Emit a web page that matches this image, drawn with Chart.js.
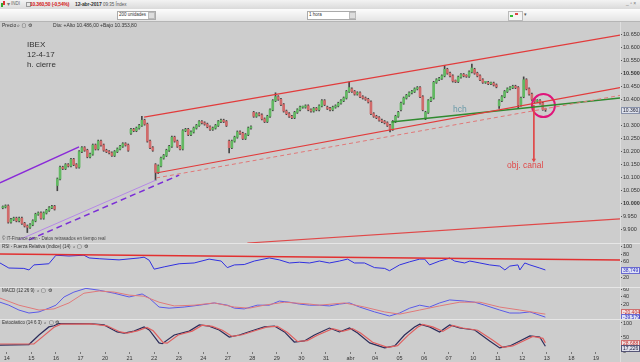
<!DOCTYPE html>
<html>
<head>
<meta charset="utf-8">
<script src="https://cdn.jsdelivr.net/npm/chart.js@4.4.1/dist/chart.umd.min.js"></script>
<style>
body{margin:0;width:640px;height:362px;background:#e6e6e6;overflow:hidden;position:relative;font-family:'Liberation Sans',Arial,sans-serif}
canvas{position:absolute;left:0;background:#cdcdcd}
.a{position:absolute;white-space:nowrap;line-height:1}
</style>
</head>
<body>
<div class="a" style="left:0;top:0;width:640px;height:9px;background:linear-gradient(#f3f3f3,#dadada)"></div>
<div class="a" style="left:0;top:9px;width:640px;height:12px;background:linear-gradient(#fcfcfc,#e4e4e4);border-bottom:1px solid #b5b5b5"></div>
<div class="a" style="left:1px;top:3px;width:2px;height:4px;background:#3a3"></div>
<div class="a" style="left:3px;top:1px;width:2px;height:4px;background:#d33"></div>
<div class="a" style="left:7px;top:1px;font-size:6px;color:#777">▾</div>
<div class="a" style="left:11px;top:2px;font-size:4.5px;color:#666">INDI</div>
<div class="a" style="left:26px;top:2px;width:3px;height:3px;border:1px solid #999"></div>
<div class="a" style="left:30px;top:2px;font-size:5px;font-weight:bold;letter-spacing:-0.2px;color:#d42020">10.360,50 (-0,54%)</div>
<div class="a" style="left:75px;top:2px;font-size:5px;font-weight:bold;letter-spacing:-0.1px;color:#333">12-abr-2017</div>
<div class="a" style="left:103px;top:2.5px;font-size:4.5px;color:#555">09:35 Índex</div>
<div class="a" style="left:626px;top:1px;font-size:5px;color:#777">_ ▫ ×</div>
<div class="a" style="left:117px;top:11px;width:37px;height:7px;background:#fff;border:1px solid #aaa"></div>
<div class="a" style="left:119px;top:12.5px;font-size:4.5px;color:#333">200 unidades</div>
<div class="a" style="left:148px;top:12px;width:5px;height:5px;background:#ddd;border:1px solid #bbb"></div>
<div class="a" style="left:307px;top:11px;width:47px;height:7px;background:#fff;border:1px solid #aaa"></div>
<div class="a" style="left:309px;top:12.5px;font-size:4.5px;color:#333">1 hora</div>
<div class="a" style="left:349px;top:12px;width:5px;height:5px;background:#ddd;border:1px solid #bbb"></div>
<div class="a" style="left:508px;top:11px;width:13px;height:8px;background:#f4f4f4;border:1px solid #bbb"></div>
<div class="a" style="left:510px;top:15px;width:3px;height:2px;background:#3b3"></div>
<div class="a" style="left:515px;top:13px;width:3px;height:2px;background:#d44"></div>
<div class="a" style="left:524px;top:12px;font-size:5px;color:#555">▾</div>

<canvas id="price" width="640" height="221" style="top:22px"></canvas>
<canvas id="rsi" width="640" height="43" style="top:244px"></canvas>
<canvas id="macd" width="640" height="31" style="top:288px"></canvas>
<canvas id="stoch" width="640" height="42" style="top:320px"></canvas>

<script>
// x values are trading days (0 = 14 mar), 9 hourly candles per day
const dayLabels = ['14','15','16','17','20','21','22','23','24','27','28','29','30','31','abr','04','05','06','07','10','11','12','13','18','19'];
const priceTicks = [9900,9950,10000,10050,10100,10150,10200,10250,10300,10350,10400,10450,10500,10550,10600,10650];

// first entry: last two hours of 13 mar
const dayOpens = [9985,9992,9920,10070,10200,10205,10270,10150,10220,10310,10240,10350,10410,10370,10370,10440,10335,10360,10330,10500,10515,10375,10410];
const dayCloses = [
  [9988,9992],
  [9930,9940,9945,9935,9945,9925,9915,9910,9920],
  [9935,9960,9965,9945,9965,9975,9985,9990,9980],
  [10095,10140,10135,10150,10145,10170,10150,10140,10200],
  [10215,10205,10180,10190,10225,10210,10240,10225,10205],
  [10200,10195,10185,10200,10210,10220,10230,10225,10205],
  [10285,10280,10290,10300,10320,10305,10240,10215,10205],
  [10120,10145,10175,10185,10205,10220,10255,10240,10220],
  [10210,10280,10285,10265,10275,10290,10300,10315,10310],
  [10305,10295,10285,10290,10300,10315,10320,10315,10300],
  [10215,10240,10255,10275,10270,10250,10265,10290,10295],
  [10335,10345,10340,10325,10315,10335,10360,10395,10410],
  [10400,10380,10355,10345,10335,10330,10350,10360,10370],
  [10370,10375,10360,10355,10365,10360,10375,10395,10380],
  [10365,10360,10370,10375,10385,10395,10405,10430,10445],
  [10430,10420,10425,10410,10405,10400,10390,10345,10335],
  [10330,10320,10315,10310,10300,10285,10315,10335,10350],
  [10385,10405,10415,10425,10430,10440,10445,10410,10360],
  [10350,10395,10405,10465,10475,10480,10490,10515,10500],
  [10490,10470,10468,10485,10495,10490,10488,10505,10520],
  [10500,10490,10475,10465,10465,10460,10462,10455,10448],
  [10395,10410,10430,10440,10445,10450,10445,10378,10405],
  [10475,10440,10420,10400,10392,10395,10385,10362,10360]
];
// notable wicks, key = day-hour
const wickLows = {'0-7':9890,'2-0':10050,'6-0':10090,'9-0':10195,'15-5':10275,'17-0':10322,'20-0':10365,'20-7':10367,'21-8':10354};
const wickHighs = {'5-4':10335,'10-8':10425,'13-8':10466,'17-7':10530,'18-8':10535,'21-0':10486};

// trend lines [day, price]
const upperChannel = [[5.59,10332],[24.98,10646]];
const lowerChannel = [[6.08,10118],[24.98,10445]];
const lowerDashed = [[6.08,10099],[24.98,10415]];
const bottomLine = [[9.8,9850],[24.98,9942]];
const purpleUpper = [[-0.28,10080],[2.94,10218]];
const lavenderLine = [[0.49,9862],[6.08,10091]];
const purpleDashed = [[0.9,9862],[7.02,10110]];
const neckline = [[15.67,10313],[24.98,10405]];
const targetArrow = [[21.47,10378],[21.47,10168]];
const circleMark = [[21.86,10376]];

// indicators [day, value]
const rsiLine = [[-0.28,57],[0.08,44],[0.69,43],[0.90,39],[1.10,52],[1.71,55],[2.00,77],[2.53,75],[3.14,77],[3.35,70],[3.76,68],[4.57,65],[5.39,70],[5.59,72],[5.80,64],[6.00,41],[6.41,47],[7.02,55],[7.63,57],[8.24,67],[8.73,62],[8.98,45],[9.27,52],[9.67,53],[10.08,62],[10.69,70],[11.10,65],[11.51,57],[11.92,59],[12.33,57],[12.73,62],[13.14,57],[13.55,62],[13.88,67],[14.16,57],[14.57,57],[14.98,45],[15.39,43],[15.59,37],[16.00,52],[16.41,60],[16.82,67],[17.02,67],[17.22,52],[17.63,62],[17.92,67],[18.04,70],[18.24,62],[18.65,57],[18.86,62],[19.27,57],[19.67,52],[20.08,49],[20.29,39],[20.49,49],[20.82,52],[20.90,39],[21.10,57],[21.31,52],[21.71,44],[21.94,39]];
const rsiTrend = [[-0.28,80],[24.98,65]];
const macdLine = [[-0.28,25],[0.08,17],[0.49,4],[0.90,-4],[1.31,-1],[1.71,9],[2.00,17],[2.33,39],[2.73,52],[3.22,62],[3.76,57],[4.37,49],[4.98,39],[5.51,47],[5.80,36],[6.20,12],[6.61,9],[7.22,12],[7.84,17],[8.45,23],[8.98,17],[9.27,9],[9.67,7],[10.20,17],[10.69,17],[11.10,28],[11.51,25],[11.92,20],[12.33,17],[12.73,17],[13.14,15],[13.55,20],[13.96,23],[14.37,12],[14.98,-1],[15.59,-12],[16.00,-4],[16.41,9],[16.82,17],[17.22,12],[17.63,23],[18.04,31],[18.65,28],[19.06,25],[19.47,17],[20.08,4],[20.49,-4],[20.90,-4],[21.31,-1],[21.94,-15]];
const macdSignal = [[-0.28,36],[0.49,17],[1.31,4],[1.92,7],[2.53,23],[3.14,49],[3.76,55],[4.37,52],[4.98,44],[5.59,41],[6.20,25],[6.82,15],[7.63,17],[8.45,23],[9.27,12],[9.88,9],[10.49,17],[11.31,25],[12.33,20],[12.73,17],[13.76,23],[14.57,12],[15.39,-1],[16.00,-7],[16.82,4],[17.63,15],[18.45,25],[19.27,25],[20.08,12],[20.90,4],[21.94,-7]];
const stochK = [[-0.28,21],[0.90,23],[1.31,57],[1.71,86],[1.92,90],[2.12,98],[3.35,98],[3.96,93],[4.49,68],[4.78,64],[5.18,71],[5.59,86],[5.80,75],[6.20,29],[6.33,26],[6.82,57],[7.43,71],[7.84,93],[8.24,89],[8.65,75],[9.06,50],[9.47,57],[10.08,75],[10.49,86],[10.90,89],[11.31,68],[11.71,32],[12.12,36],[12.53,57],[13.14,82],[13.55,68],[13.96,82],[14.29,64],[14.78,29],[15.39,11],[15.80,18],[16.20,57],[16.61,86],[16.82,96],[17.22,86],[17.63,68],[18.04,93],[18.45,82],[19.06,75],[19.67,36],[20.08,11],[20.49,18],[20.90,36],[21.31,54],[21.71,50],[21.94,17]];
const stochD = [[-0.28,25],[1.10,25],[1.51,55],[1.92,85],[2.20,96],[3.43,97],[4.08,90],[4.61,68],[4.90,64],[5.31,72],[5.71,84],[5.96,72],[6.37,30],[6.53,28],[6.98,57],[7.55,71],[7.96,92],[8.37,88],[8.78,74],[9.18,52],[9.59,58],[10.20,75],[10.61,86],[11.02,88],[11.43,66],[11.84,34],[12.24,37],[12.65,56],[13.27,80],[13.67,70],[14.08,80],[14.41,64],[14.90,31],[15.51,13],[15.92,19],[16.33,55],[16.73,85],[16.94,95],[17.35,86],[17.76,70],[18.16,91],[18.57,82],[19.18,74],[19.80,38],[20.20,13],[20.61,18],[21.02,35],[21.43,52],[21.84,45],[21.94,29]];

const X_MIN = -0.28, X_MAX = 24.98;
const FONT = 'Liberation Sans';
const GREEN = '#62b862', RED = '#d06a6a';

const pts = arr => arr.map(p => ({x: p[0], y: p[1]}));
const fmt = v => String(v).replace(/\B(?=(\d{3})+$)/, '.');

// build candles
const bodies = [], bodyColors = [], wicks = [];
dayCloses.forEach((closes, n) => {
  const day = n - 1;
  const first = 9 - closes.length;
  let o = dayOpens[n];
  closes.forEach((c, j) => {
    const slot = first + j;
    const x = day + (slot + 0.5) / 9;
    const key = day + '-' + slot;
    const lo = wickLows[key] !== undefined ? wickLows[key] : Math.min(o, c) - 4;
    const hi = wickHighs[key] !== undefined ? wickHighs[key] : Math.max(o, c) + 4;
    bodies.push({x: x, y: [o, c]});
    bodyColors.push(c >= o ? GREEN : RED);
    wicks.push({x: x, y: [lo, hi]});
    o = c;
  });
});

const notes = {
  id: 'notes',
  afterDraw(chart, args, opts) {
    const ctx = chart.ctx;
    const a = chart.chartArea;
    ctx.save();
    ctx.strokeStyle = '#dedede';
    ctx.lineWidth = 1;
    ctx.beginPath();
    ctx.moveTo(a.right + 0.5, 0); ctx.lineTo(a.right + 0.5, chart.height);
    ctx.stroke();
    ctx.textBaseline = 'middle';
    (opts.items || []).forEach(it => {
      ctx.font = it.font;
      ctx.fillStyle = it.color || '#333';
      ctx.textAlign = it.align || 'left';
      ctx.fillText(it.text, it.x, it.y);
    });
    (opts.boxes || []).forEach(b => {
      const y = Math.round(chart.scales.y.getPixelForValue(b.value)) + (b.dy || 0);
      ctx.fillStyle = b.bg;
      ctx.fillRect(a.right + 1, y - 3, 19, 7);
      ctx.strokeStyle = b.border;
      ctx.strokeRect(a.right + 1.5, y - 2.5, 18, 6);
      ctx.fillStyle = b.color;
      ctx.font = '5px ' + FONT;
      ctx.textAlign = 'left';
      ctx.fillText(b.text, a.right + 3, y + 0.5);
    });
    ctx.restore();
  }
};

function rightAxis(min, max, ticks, fmtFn, boldEvery) {
  return {
    position: 'right', min: min, max: max, offset: false,
    border: {display: false},
    grid: {drawOnChartArea: false, tickLength: 2, color: '#555'},
    afterBuildTicks: s => { s.ticks = ticks.map(v => ({value: v})); },
    afterFit: s => { s.width = 20; s.paddingTop = 0; s.paddingBottom = 0; },
    ticks: {
      padding: 1, color: '#333', autoSkip: false,
      font: c => ({size: 5.5, family: FONT, weight: boldEvery && c.tick && c.tick.value % boldEvery === 0 ? 'bold' : 'normal'}),
      callback: fmtFn
    }
  };
}
const hiddenX = {type: 'linear', min: X_MIN, max: X_MAX, offset: false, display: false};
const baseOpts = {
  responsive: false, animation: false, events: [],
  layout: {padding: 0, autoPadding: false},
  plugins: {legend: {display: false}, tooltip: {enabled: false}}
};
function line(data, color, width, dash) {
  return {type: 'line', data: pts(data), borderColor: color, borderWidth: width, borderDash: dash || [], pointRadius: 0, fill: false, tension: 0, order: 0};
}

// Price
new Chart(document.getElementById('price'), {
  type: 'line',
  data: {
    datasets: [
      line(upperChannel, '#e23b3b', 1.2),
      line(lowerChannel, '#e23b3b', 1.2),
      line(lowerDashed, '#e07878', 1, [4, 3]),
      line(bottomLine, '#e04848', 1.2),
      line(purpleUpper, '#8a2ad8', 1.5),
      line(lavenderLine, '#b588e6', 1),
      line(purpleDashed, '#7b2ed6', 1.5, [6, 4]),
      line(neckline, '#2f8a2f', 1.4),
      Object.assign(line(targetArrow, '#e04848', 1), {pointRadius: [0, 2.5], pointStyle: 'triangle', rotation: 180, pointBackgroundColor: '#e04848', pointBorderWidth: 0}),
      Object.assign(line(circleMark, '#e0157a', 2), {showLine: false, pointRadius: 11.5, pointStyle: 'circle', pointBorderColor: '#e0157a', pointBorderWidth: 2, pointBackgroundColor: 'rgba(0,0,0,0)'}),
      {type: 'bar', data: bodies, backgroundColor: bodyColors, barThickness: 2, grouped: false, minBarLength: 1, order: 1},
      {type: 'bar', data: wicks, backgroundColor: '#444444', barThickness: 1, grouped: false, order: 2}
    ]
  },
  options: Object.assign({}, baseOpts, {
    scales: {
      x: hiddenX,
      y: rightAxis(9850, 10696, priceTicks, v => fmt(v), 500)
    },
    plugins: Object.assign({}, baseOpts.plugins, {
      notes: {
        items: [
          {text: 'Precio', x: 2, y: 3.5, font: '5px ' + FONT, color: '#333'},
          {text: '⌕ ▢ ⚙', x: 17, y: 3.5, font: '5px DejaVu Sans', color: '#333'},
          {text: 'Día: +Alto 10.486,00 +Bajo 10.353,80', x: 53, y: 3.5, font: '5px ' + FONT, color: '#333'},
          {text: 'IBEX', x: 27, y: 23, font: '8px ' + FONT, color: '#333'},
          {text: '12-4-17', x: 27, y: 33, font: '8px ' + FONT, color: '#333'},
          {text: 'h. cierre', x: 27, y: 43, font: '8px ' + FONT, color: '#333'},
          {text: 'hch', x: 453, y: 88, font: '8.5px ' + FONT, color: '#6a9aa8'},
          {text: 'obj. canal', x: 507, y: 144, font: '8.5px ' + FONT, color: '#e04848'},
          {text: '© IT-Finance.com - Datos retrasados en tiempo real', x: 2, y: 217, font: '4.5px ' + FONT, color: '#444'}
        ],
        boxes: [{value: 10360.5, text: '10.360,5', bg: '#dfe3ee', border: '#8891aa', color: '#223'}]
      }
    })
  }),
  plugins: [notes]
});

// RSI
new Chart(document.getElementById('rsi'), {
  type: 'line',
  data: {datasets: [
    line(rsiTrend, '#e23030', 1.5),
    line(rsiLine, '#3030e0', 1)
  ]},
  options: Object.assign({}, baseOpts, {
    scales: {x: hiddenX, y: rightAxis(-5, 106, [20, 40, 60, 80, 100], v => v)},
    plugins: Object.assign({}, baseOpts.plugins, {
      notes: {
        items: [{text: 'RSI - Fuerza Relativa (índice) (14)  ⌕ ▢ ⚙', x: 2, y: 3, font: '4.5px ' + FONT, color: '#333'}],
        boxes: [{value: 39, text: '38,749', bg: '#dfe3f5', border: '#6a6ad0', color: '#3030c0'}]
      }
    })
  }),
  plugins: [notes]
});

// MACD
new Chart(document.getElementById('macd'), {
  type: 'line',
  data: {datasets: [
    line(macdSignal, '#e07a7a', 1),
    line(macdLine, '#5a5ae8', 1)
  ]},
  options: Object.assign({}, baseOpts, {
    scales: {x: hiddenX, y: rightAxis(-20, 63, [0, 20, 40, 60], v => v)},
    plugins: Object.assign({}, baseOpts.plugins, {
      notes: {
        items: [{text: 'MACD (12 26 9)  ⌕ ▢ ⚙', x: 2, y: 3, font: '4.5px ' + FONT, color: '#333'}],
        boxes: [
          {value: -7, text: '-20,404', bg: '#f3e0e0', border: '#d07070', color: '#c03030', dy: -2},
          {value: -15, text: '-39,579', bg: '#dfe3f5', border: '#6a6ad0', color: '#3030c0', dy: 0}
        ]
      }
    })
  }),
  plugins: [notes]
});

// Stochastic
new Chart(document.getElementById('stoch'), {
  type: 'line',
  data: {datasets: [
    line(stochD, '#e06060', 1.2),
    line(stochK, '#2c2c5a', 1.2)
  ]},
  options: Object.assign({}, baseOpts, {
    scales: {
      x: {
        type: 'linear', min: X_MIN, max: X_MAX, offset: false,
        border: {display: false},
        grid: {drawOnChartArea: false, tickLength: 2, color: '#777'},
        afterBuildTicks: s => { s.ticks = dayLabels.map((l, i) => ({value: i})); },
        afterFit: s => { s.height = 10; s.paddingLeft = 0; s.paddingRight = 0; },
        ticks: {padding: 1, color: '#333', autoSkip: false, maxRotation: 0, font: {size: 5.5, family: FONT}, callback: v => dayLabels[v]}
      },
      y: rightAxis(-3.6, 110.7, [0, 50, 100], v => v)
    },
    plugins: Object.assign({}, baseOpts.plugins, {
      notes: {
        items: [{text: 'Estocástico (14 6 3)  ⌕ ▢ ⚙', x: 2, y: 3, font: '4.5px ' + FONT, color: '#333'}],
        boxes: [
          {value: 29, text: '28,688', bg: '#f3e0e0', border: '#d07070', color: '#c03030'},
          {value: 17, text: '17,226', bg: '#e0e0ea', border: '#555577', color: '#222244', dy: 2}
        ]
      }
    })
  }),
  plugins: [notes]
});
</script>
</body>
</html>
